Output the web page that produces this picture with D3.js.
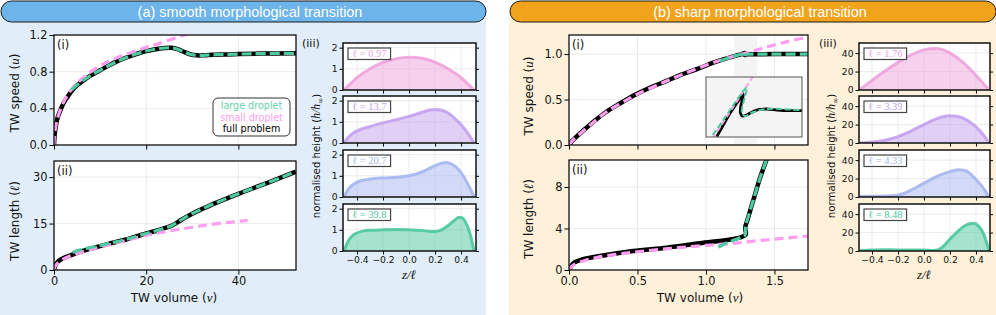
<!DOCTYPE html>
<html>
<head>
<meta charset="utf-8">
<script src="https://cdn.jsdelivr.net/npm/d3@7"></script>
<style>
  body { margin: 0; background: #fff; }
  svg { display: block; }
</style>
</head>
<body>
<script>
// ---- data: (a) smooth transition, [volume, value] pairs ----
const aSpeedFull = [[0,0],[0.1,0.09],[0.25,0.16],[0.5,0.24],[0.8,0.3],[1.2,0.355],[2,0.45],[3,0.53],[4,0.6],[5,0.65],[6,0.69],
  [8,0.76],[10,0.815],[12,0.87],[14,0.92],[16,0.96],[18,0.995],[20,1.025],[22,1.045],[24,1.058],[25.5,1.06],[26.8,1.045],
  [28,1.02],[29.5,0.99],[31,0.978],[33,0.98],[36,0.987],[40,0.992],[45,0.997],[52.5,1.0]];
const aSpeedLarge = [[3.8,0.6],[5,0.655],[6,0.695],[8,0.76],[10,0.815],[12,0.87],[14,0.92],[16,0.96],[18,0.995],[20,1.025],
  [22,1.045],[24,1.058],[25.5,1.06],[26.8,1.045],[28,1.02],[29.5,0.99],[31,0.978],[33,0.98],[36,0.987],[40,0.992],[45,0.997],[52.5,1.0]];
const aSpeedSmall = [[0,0],[0.1,0.1],[0.3,0.18],[0.6,0.26],[1,0.33],[2,0.46],[3,0.55],[4,0.62],[6,0.72],[8,0.8],[10,0.865],
  [12,0.915],[15,0.98],[18,1.03],[20,1.065],[22,1.095],[25,1.145],[28,1.195],[30,1.225]];

const aLengthFull = [[0,0],[0.2,1.2],[0.5,2.1],[1,2.9],[2,3.8],[3,4.4],[4,5.0],[6,6.0],[8,6.9],[10,7.7],[12,8.5],[15,9.6],
  [18,10.9],[20,11.8],[22,12.6],[24,13.5],[25.5,14.3],[27,15.6],[28.5,17],[30,18.2],[32,19.6],[35,21.6],[40,24.6],[45,27.4],[50,30.3],[52.5,31.8]];
const aLengthLarge = [[4,5.6],[5,6.2],[6,6.6],[8,7.3],[10,7.9],[12,8.6],[15,9.65],[18,10.9],[20,11.8],[22,12.6],[24,13.5],
  [25.5,14.3],[27,15.6],[28.5,17],[30,18.2],[32,19.6],[35,21.6],[40,24.6],[45,27.4],[50,30.3],[52.5,31.8]];
const aLengthSmall = [[0,0],[0.2,1.1],[0.5,1.8],[1,2.5],[2,3.5],[3,4.2],[4,4.8],[6,5.8],[8,6.6],[10,7.4],[15,9.3],[20,11.2],
  [25,12.6],[30,13.8],[35,14.9],[42,16.0]];

// ---- data: (b) sharp transition ----
const bSpeedFull = [[0,0],[0.02,0.04],[0.068,0.11],[0.166,0.24],[0.263,0.355],[0.372,0.457],[0.48,0.55],[0.59,0.63],
  [0.713,0.705],[0.82,0.775],[0.944,0.84],[1.053,0.905],[1.2,0.975],[1.26,1.0],[1.283,1.013],[1.282,0.99],[1.29,0.995],
  [1.3,0.998],[1.35,0.997],[1.5,1.0],[1.75,1.0]];
const bSpeedLarge = [[1.1,0.925],[1.2,0.975],[1.26,1.0],[1.285,1.02],[1.283,0.995],[1.3,0.998],[1.4,0.999],[1.75,1.0]];
const bSpeedSmall = [[0,0],[0.02,0.04],[0.07,0.11],[0.17,0.24],[0.27,0.36],[0.38,0.46],[0.5,0.56],[0.7,0.695],[0.9,0.82],
  [1.1,0.93],[1.3,1.015],[1.45,1.08],[1.6,1.14],[1.75,1.19]];
const bBand = [1.205, 1.375];

const bInsetFull = [[1.2667,0.9703],[1.2708,0.982],[1.275,0.9937],[1.2792,1.0037],[1.2823,1.011],[1.2833,1.013],[1.2829,1.0087],
  [1.2817,1.0003],[1.2815,0.9943],[1.2827,0.991],[1.2854,0.992],[1.2886,0.9947],[1.2927,0.9973],[1.2979,0.998],[1.3063,0.9967],[1.32,0.9963]];
const bInsetLarge = [[1.2642,0.972],[1.2708,0.987],[1.2771,1.002],[1.2823,1.0137],[1.2854,1.0197],[1.2844,1.0103],[1.2827,1.0003],
  [1.2825,0.9937],[1.2844,0.991],[1.2896,0.995],[1.2979,0.998],[1.32,0.9967]];
const bInsetSmall = [[1.264,0.968],[1.29,1.032]];

const bLengthFull = [[0,0],[0.007,0.16],[0.03,0.64],[0.1,1.03],[0.226,1.35],[0.47,1.83],[0.713,2.15],[0.956,2.57],[1.2,2.99],
  [1.26,3.18],[1.29,3.4],[1.292,3.6],[1.287,3.9],[1.288,4.2],[1.30,4.7],[1.346,6.75],[1.394,8.84],[1.45,10.9]];
const bLengthLarge = [[1.09,2.2],[1.15,2.6],[1.2,2.85],[1.25,3.1],[1.283,3.3],[1.29,3.6],[1.287,4.0],[1.295,4.5],[1.346,6.75],
  [1.394,8.84],[1.45,10.9]];
const bLengthSmall = [[0,0],[0.03,0.45],[0.1,0.85],[0.2,1.2],[0.4,1.6],[0.6,1.9],[0.8,2.15],[1.0,2.37],[1.2,2.57],[1.4,2.85],
  [1.6,3.1],[1.75,3.28]];

// ---- data: height profiles, [z/l, h/h_inf] ----
const aProfileLengths = ['0.97', '13.7', '20.7', '39.8'];
const aProfiles = [
  [[-0.5,0],[-0.45,0.3],[-0.4,0.58],[-0.3,1.0],[-0.2,1.3],[-0.1,1.48],[0,1.55],[0.1,1.5],[0.2,1.32],[0.3,1.0],[0.4,0.58],[0.45,0.3],[0.5,0]],
  [[-0.5,0],[-0.47,0.25],[-0.44,0.42],[-0.4,0.57],[-0.3,0.78],[-0.2,0.95],[-0.1,1.1],[0,1.26],[0.1,1.45],[0.16,1.56],[0.2,1.58],
   [0.25,1.55],[0.3,1.42],[0.35,1.18],[0.4,0.86],[0.45,0.48],[0.5,0]],
  [[-0.5,0],[-0.47,0.35],[-0.44,0.55],[-0.4,0.7],[-0.35,0.8],[-0.3,0.85],[-0.2,0.9],[-0.1,0.93],[0,1.0],[0.1,1.18],[0.2,1.48],
   [0.25,1.6],[0.28,1.63],[0.32,1.58],[0.36,1.42],[0.4,1.15],[0.44,0.75],[0.47,0.4],[0.5,0]],
  [[-0.5,0],[-0.47,0.45],[-0.44,0.7],[-0.4,0.85],[-0.35,0.95],[-0.3,0.98],[-0.2,1.0],[-0.1,1.01],[0,1.0],[0.1,0.97],[0.15,0.93],
   [0.2,0.92],[0.25,1.0],[0.3,1.2],[0.35,1.45],[0.38,1.58],[0.4,1.58],[0.43,1.42],[0.46,1.0],[0.48,0.55],[0.5,0]]
];
const bProfileLengths = ['1.76', '3.39', '4.33', '8.48'];
const bProfiles = [
  [[-0.5,0],[-0.45,5],[-0.4,10.5],[-0.3,20.5],[-0.2,30],[-0.1,38],[0,43.5],[0.08,45],[0.15,43.5],[0.2,40],[0.3,30],[0.4,16],[0.45,8],[0.5,0]],
  [[-0.5,0],[-0.4,1.2],[-0.3,3],[-0.2,7],[-0.1,13],[0,20],[0.1,26.5],[0.2,29.5],[0.25,29],[0.3,27],[0.35,23],[0.4,17.5],[0.45,10],[0.5,0]],
  [[-0.5,0.5],[-0.4,0.8],[-0.3,1],[-0.2,2],[-0.1,7.5],[0,15],[0.1,22.5],[0.2,27.5],[0.27,29.5],[0.32,28.5],[0.4,19],[0.45,11],[0.5,0]],
  [[-0.5,0.3],[-0.4,1.2],[-0.3,1.4],[-0.2,1.2],[-0.1,1.2],[0,1.0],[0.08,0.6],[0.13,3],[0.2,13],[0.25,20],[0.3,26],[0.35,29.5],
   [0.38,30],[0.42,27],[0.46,18],[0.48,10],[0.5,0]]
];

// ---- ticks ----
const aVolumeTicks = [0, 20, 40];
const aSpeedTicks = [0, 0.4, 0.8, 1.2];
const aLengthTicks = [0, 15, 30];
const bVolumeTicks = [0, 0.5, 1.0, 1.5];
const bSpeedTicks = [0, 0.5, 1.0];
const bLengthTicks = [0, 4, 8];
const zTicks = [-0.4, -0.2, 0, 0.2, 0.4];
const aHeightTicks = [0, 1, 2];
const bHeightTicks = [0, 20, 40];

const legendLabels = ['large droplet', 'small droplet', 'full problem'];

// ---- styles ----
const SANS = 'DejaVu Sans, sans-serif';
const SERIF = 'Liberation Serif, DejaVu Serif, serif';
const GREEN = '#4fc9a0', PINK = '#ff9df0';
const profileColors = ['#eea2dc', '#c3a0ee', '#a5b6ef', '#4cc79e'];
const legendColors = ['#63d2ad', '#ff9df0', '#000'];
const seriesStyle = {
  full:  { stroke: '#000', width: 4.5, dash: null },
  small: { stroke: PINK, width: 3.2, dash: [9, 5] },
  large: { stroke: GREEN, width: 3.2, dash: [10, 4] }
};

const svg = d3.select('body').append('svg')
  .attr('width', 996).attr('height', 315)
  .style('font-family', SANS);

let clipCount = 0;

/**
 * Coloured panel background with the rounded title bar on top
 */
let drawPanel = (x0, x1, bg, head, title, tx) => {
  svg.append('rect').attr('x', x0).attr('y', 11).attr('width', x1 - x0).attr('height', 304).attr('fill', bg);
  svg.append('rect').attr('x', x0 + 1).attr('y', 1).attr('width', x1 - x0 - 1).attr('height', 21)
    .attr('rx', 10.5).attr('fill', head).attr('stroke', '#1a1a1a').attr('stroke-width', 1);
  svg.append('text').attr('x', tx).attr('y', 17).attr('text-anchor', 'middle')
    .attr('fill', '#fff').attr('font-family', 'Liberation Sans, Arial, sans-serif').attr('font-size', 14.4)
    .text(title);
};

/**
 * White plotting area, grid and a clipped group for the marks
 */
let makeAxes = (x, y, xTicks, yTicks) => {
  const [x0, x1] = x.range(), [y0, y1] = y.range();
  const g = svg.append('g');
  g.append('rect').attr('x', x0).attr('y', y1).attr('width', x1 - x0).attr('height', y0 - y1).attr('fill', '#fff');
  const grid = g.append('g').attr('stroke', '#e6e6e6').attr('stroke-width', 0.8);
  grid.selectAll('.gx').data(xTicks).join('line').attr('class', 'gx')
    .attr('x1', d => x(d)).attr('x2', d => x(d)).attr('y1', y1).attr('y2', y0);
  grid.selectAll('.gy').data(yTicks).join('line').attr('class', 'gy')
    .attr('x1', x0).attr('x2', x1).attr('y1', d => y(d)).attr('y2', d => y(d));
  const id = 'clip' + (clipCount++);
  g.append('clipPath').attr('id', id).append('rect')
    .attr('x', x0).attr('y', y1).attr('width', x1 - x0).attr('height', y0 - y1);
  const inner = g.append('g').attr('clip-path', `url(#${id})`);
  return { g, inner };
};

/**
 * Ticks, tick labels and the black frame
 */
let finishAxes = (g, x, y, xTicks, yTicks, o) => {
  const [x0, x1] = x.range(), [y0, y1] = y.range();
  const xa = g.append('g').attr('transform', `translate(0,${y0})`)
    .call(d3.axisBottom(x).tickValues(xTicks).tickSize(o.tick).tickPadding(2).tickSizeOuter(0)
      .tickFormat(o.xFmt ? d3.format(o.xFmt) : ''));
  const ya = g.append('g').attr('transform', `translate(${x0},0)`)
    .call(d3.axisLeft(y).tickValues(yTicks).tickSize(o.tick).tickPadding(2).tickSizeOuter(0)
      .tickFormat(d3.format(o.yFmt)));
  const axes = [xa, ya];
  if (o.rightTicks) {
    axes.push(g.append('g').attr('transform', `translate(${x1},0)`)
      .call(d3.axisRight(y).tickValues(yTicks).tickSize(3).tickSizeOuter(0).tickFormat('')));
  }
  axes.forEach(a => {
    a.attr('font-size', o.fontSize).attr('font-family', SANS);
    a.select('.domain').remove();
    a.selectAll('line').attr('stroke-width', 1);
    a.selectAll('text').attr('fill', '#111');
  });
  g.append('rect').attr('x', x0).attr('y', y1).attr('width', x1 - x0).attr('height', y0 - y1)
    .attr('fill', 'none').attr('stroke', '#111').attr('stroke-width', o.frame || 1.3);
};

let drawSeries = (g, x, y, pts, st, k = 1) => {
  g.append('path').datum(pts)
    .attr('fill', 'none')
    .attr('stroke', st.stroke)
    .attr('stroke-width', st.width * k)
    .attr('stroke-dasharray', st.dash ? st.dash.map(v => v * k).join(',') : null)
    .attr('stroke-linejoin', 'round')
    .attr('d', d3.line().x(d => x(d[0])).y(d => y(d[1])).curve(d3.curveCatmullRom.alpha(0.5)));
};

let drawTriple = (g, x, y, full, small, large, k) => {
  drawSeries(g, x, y, full, seriesStyle.full, k);
  drawSeries(g, x, y, small, seriesStyle.small, k);
  drawSeries(g, x, y, large, seriesStyle.large, k);
};

let rotLabel = (x, y, pre, sym, post, size) => {
  const t = svg.append('text').attr('transform', `translate(${x},${y}) rotate(-90)`)
    .attr('text-anchor', 'middle').attr('font-size', size).attr('fill', '#111');
  t.append('tspan').text(pre);
  t.append('tspan').attr('font-family', SERIF).attr('font-style', 'italic').attr('font-size', size * 1.08).text(sym);
  t.append('tspan').text(post);
  return t;
};

let xLabel = (x, y, pre, sym, post) => {
  const t = svg.append('text').attr('x', x).attr('y', y).attr('text-anchor', 'middle')
    .attr('font-size', 12).attr('fill', '#111');
  t.append('tspan').text(pre);
  t.append('tspan').attr('font-family', SERIF).attr('font-style', 'italic').attr('font-size', 13).text(sym);
  t.append('tspan').text(post);
};

let tagText = (x, y, s, size = 11.5) => {
  svg.append('text').attr('x', x).attr('y', y).attr('font-size', size).attr('fill', '#111').text(s);
};

let heightLabel = (x, y) => {
  const t = svg.append('text').attr('transform', `translate(${x},${y}) rotate(-90)`).attr('text-anchor', 'middle')
    .attr('font-size', 10.2).attr('fill', '#111');
  t.append('tspan').text('normalised height (');
  t.append('tspan').attr('font-family', SERIF).attr('font-style', 'italic').attr('font-size', 11.5).text('h/h');
  t.append('tspan').attr('font-size', 7.5).attr('dy', 2.5).text('∞');
  t.append('tspan').attr('dy', -2.5).text(')');
};

/**
 * One of the stacked height profiles
 */
let profilePlot = (x, yMax, top, pts, color, len, yTicks, last) => {
  const y = d3.scaleLinear().domain([0, yMax]).range([top + 47, top]);
  const { g, inner } = makeAxes(x, y, zTicks, yTicks);
  inner.append('path').datum(pts)
    .attr('fill', color).attr('fill-opacity', 0.5)
    .attr('d', d3.area().x(d => x(d[0])).y0(y(0)).y1(d => y(d[1])).curve(d3.curveMonotoneX));
  inner.append('path').datum(pts)
    .attr('fill', 'none').attr('stroke', color).attr('stroke-width', 3).attr('stroke-opacity', 0.9)
    .attr('d', d3.line().x(d => x(d[0])).y(d => y(d[1])).curve(d3.curveMonotoneX));
  finishAxes(g, x, y, zTicks, yTicks, { tick: 3.5, fontSize: 9.2, yFmt: '.0f', xFmt: last ? '.1f' : null, rightTicks: true, frame: 1.5 });
  const bx = x.range()[0] + 5, by = top + 5;
  const box = g.append('rect').attr('x', bx).attr('y', by).attr('height', 11.5)
    .attr('fill', '#fff').attr('stroke', '#444').attr('stroke-width', 1.2);
  const t = g.append('text').attr('x', bx + 4).attr('y', by + 9).attr('font-family', SERIF)
    .attr('font-size', 10.5).attr('fill', color).text('ℓ = ' + len);
  box.attr('width', t.node().getComputedTextLength() + 8);
};

// ---- panels ----
drawPanel(0, 486, '#e1eefa', '#6cb4ea', '(a) smooth morphological transition', 250);
drawPanel(509, 996, '#fef0d9', '#f0a31b', '(b) sharp morphological transition', 760);

// (a)(i) speed
const ax = d3.scaleLinear().domain([0, 52.5]).range([54, 296]);
const ayU = d3.scaleLinear().domain([0, 1.2]).range([145, 35]);
{
  const { g, inner } = makeAxes(ax, ayU, aVolumeTicks, aSpeedTicks);
  drawTriple(inner, ax, ayU, aSpeedFull, aSpeedSmall, aSpeedLarge, 1);
  finishAxes(g, ax, ayU, aVolumeTicks, aSpeedTicks, { tick: 4.5, fontSize: 11.4, yFmt: '.1f' });
  // legend
  const lg = svg.append('g');
  lg.append('rect').attr('x', 213).attr('y', 98).attr('width', 77).attr('height', 38).attr('rx', 5)
    .attr('fill', '#fff').attr('stroke', '#333').attr('stroke-width', 1);
  lg.selectAll('text').data(legendLabels).join('text')
    .attr('x', 251.5).attr('y', (d, i) => 109 + i * 11.6).attr('text-anchor', 'middle')
    .attr('font-size', 9.6).attr('fill', (d, i) => legendColors[i]).text(d => d);
}
tagText(57, 49, '(i)');
rotLabel(19, 93, 'TW speed (', 'u', ')', 12);

// (a)(ii) length
const ayL = d3.scaleLinear().domain([0, 35.2]).range([270, 161]);
{
  const { g, inner } = makeAxes(ax, ayL, aVolumeTicks, aLengthTicks);
  drawTriple(inner, ax, ayL, aLengthFull, aLengthSmall, aLengthLarge, 1);
  finishAxes(g, ax, ayL, aVolumeTicks, aLengthTicks, { tick: 4.5, fontSize: 11.4, yFmt: '.0f', xFmt: '.0f' });
}
tagText(57, 175, '(ii)');
rotLabel(19, 221, 'TW length (', 'ℓ', ')', 12);
xLabel(174, 302, 'TW volume (', 'v', ')');

// (a)(iii) profiles
const azx = d3.scaleLinear().domain([-0.508, 0.515]).range([343, 476]);
const profileTops = [43, 96, 150, 204];
aProfiles.forEach((p, i) => profilePlot(azx, 2.22, profileTops[i], p, profileColors[i], aProfileLengths[i], aHeightTicks, i === 3));
tagText(302, 47, '(iii)', 11);
heightLabel(320, 156);
xLabel(409, 279, '', 'z/ℓ', '');

// (b)(i) speed
const bx = d3.scaleLinear().domain([0, 1.745]).range([569, 808]);
const byU = d3.scaleLinear().domain([0, 1.21]).range([145, 35]);
{
  const { g, inner } = makeAxes(bx, byU, bVolumeTicks, bSpeedTicks);
  inner.append('rect').attr('x', bx(bBand[0])).attr('width', bx(bBand[1]) - bx(bBand[0]))
    .attr('y', 35).attr('height', 110).attr('fill', '#ececec').attr('fill-opacity', 0.6);
  drawTriple(inner, bx, byU, bSpeedFull, bSpeedSmall, bSpeedLarge, 1);
  // inset zoom on the fold
  const ix = d3.scaleLinear().domain([1.26, 1.32]).range([706, 802]);
  const iy = d3.scaleLinear().domain([0.97, 1.03]).range([137, 77]);
  const id = 'clip' + (clipCount++);
  inner.append('clipPath').attr('id', id).append('rect').attr('x', 706).attr('y', 77).attr('width', 96).attr('height', 60);
  inner.append('rect').attr('x', 706).attr('y', 77).attr('width', 96).attr('height', 60).attr('fill', '#f4f4f4');
  const ig = inner.append('g').attr('clip-path', `url(#${id})`);
  drawTriple(ig, ix, iy, bInsetFull, bInsetSmall, bInsetLarge, 0.62);
  inner.append('rect').attr('x', 706).attr('y', 77).attr('width', 96).attr('height', 60)
    .attr('fill', 'none').attr('stroke', '#555').attr('stroke-width', 1);
  finishAxes(g, bx, byU, bVolumeTicks, bSpeedTicks, { tick: 4.5, fontSize: 11.4, yFmt: '.1f' });
}
tagText(572, 49, '(i)');
rotLabel(533, 96, 'TW speed (', 'u', ')', 12);

// (b)(ii) length
const byL = d3.scaleLinear().domain([0, 10.6]).range([270, 160]);
{
  const { g, inner } = makeAxes(bx, byL, bVolumeTicks, bLengthTicks);
  drawTriple(inner, bx, byL, bLengthFull, bLengthSmall, bLengthLarge, 1);
  finishAxes(g, bx, byL, bVolumeTicks, bLengthTicks, { tick: 4.5, fontSize: 11.4, yFmt: '.0f', xFmt: '.1f' });
}
tagText(572, 174, '(ii)');
rotLabel(533, 219, 'TW length (', 'ℓ', ')', 12);
xLabel(700, 302, 'TW volume (', 'v', ')');

// (b)(iii) profiles
const bzx = d3.scaleLinear().domain([-0.5, 0.508]).range([859, 990]);
bProfiles.forEach((p, i) => profilePlot(bzx, 51, profileTops[i], p, profileColors[i], bProfileLengths[i], bHeightTicks, i === 3));
tagText(819, 47, '(iii)', 11);
heightLabel(835, 156);
xLabel(924, 279, '', 'z/ℓ', '');
</script>
</body>
</html>
